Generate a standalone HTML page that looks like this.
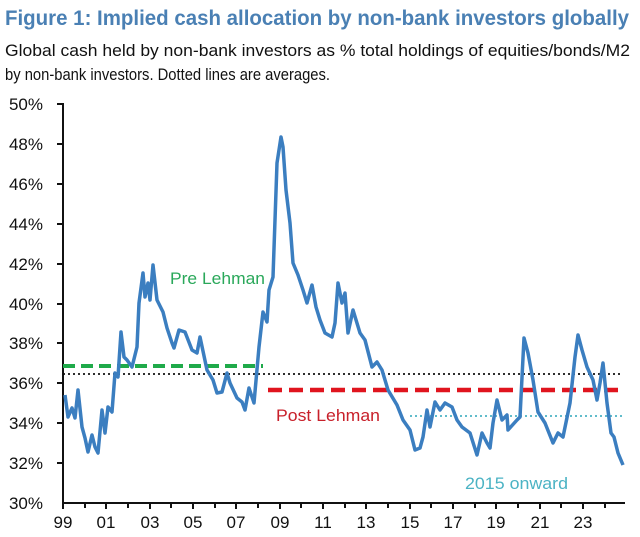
<!DOCTYPE html>
<html><head><meta charset="utf-8"><style>
html,body{margin:0;padding:0;background:#fff;}
svg{display:block;font-family:"Liberation Sans",sans-serif;}
</style></head><body>
<svg width="640" height="537" viewBox="0 0 640 537">
<text x="5" y="25" font-size="21" font-weight="bold" fill="#4a80b4" textLength="624" lengthAdjust="spacingAndGlyphs">Figure 1: Implied cash allocation by non-bank investors globally</text>
<text x="5" y="56" font-size="17" fill="#111" textLength="625" lengthAdjust="spacingAndGlyphs">Global cash held by non-bank investors as % total holdings of equities/bonds/M2</text>
<text x="5" y="80" font-size="17" fill="#111" textLength="325" lengthAdjust="spacingAndGlyphs">by non-bank investors. Dotted lines are averages.</text>
<g font-size="17" fill="#111" text-anchor="end">
<text x="43" y="110">50%</text><text x="43" y="150">48%</text><text x="43" y="190">46%</text><text x="43" y="230">44%</text><text x="43" y="270">42%</text><text x="43" y="310">40%</text><text x="43" y="349">38%</text><text x="43" y="389">36%</text><text x="43" y="429">34%</text><text x="43" y="469">32%</text><text x="43" y="509">30%</text>
</g>
<g stroke="#111" stroke-width="2">
<line x1="63" y1="103" x2="63" y2="504"/><line x1="62" y1="503" x2="625" y2="503"/>
<line x1="57" y1="104" x2="63" y2="104"/><line x1="57" y1="144" x2="63" y2="144"/><line x1="57" y1="184" x2="63" y2="184"/><line x1="57" y1="224" x2="63" y2="224"/><line x1="57" y1="264" x2="63" y2="264"/><line x1="57" y1="304" x2="63" y2="304"/><line x1="57" y1="343" x2="63" y2="343"/><line x1="57" y1="383" x2="63" y2="383"/><line x1="57" y1="423" x2="63" y2="423"/><line x1="57" y1="463" x2="63" y2="463"/>
</g>
<g stroke="#111" stroke-width="2">
<path d="M63 503v6M85 503v5M106 503v6M128 503v5M150 503v6M171 503v5M193 503v6M215 503v5M236 503v6M258 503v5M280 503v6M301 503v5M323 503v6M345 503v5M366 503v6M388 503v5M410 503v6M431 503v5M453 503v6M475 503v5M496 503v6M518 503v5M540 503v6M561 503v5M583 503v6M605 503v5"/>
</g>
<g font-size="17" fill="#111" text-anchor="middle">
<text x="63" y="528">99</text><text x="106" y="528">01</text><text x="150" y="528">03</text><text x="193" y="528">05</text><text x="236" y="528">07</text><text x="280" y="528">09</text><text x="323" y="528">11</text><text x="366" y="528">13</text><text x="410" y="528">15</text><text x="453" y="528">17</text><text x="496" y="528">19</text><text x="540" y="528">21</text><text x="583" y="528">23</text>
</g>
<line x1="63" y1="374" x2="622" y2="374" stroke="#111" stroke-width="1.8" stroke-dasharray="2,3"/>
<line x1="410" y1="416" x2="622" y2="416" stroke="#4bb3c4" stroke-width="1.8" stroke-dasharray="2,3"/>
<line x1="63" y1="366" x2="263" y2="366" stroke="#1faa4a" stroke-width="4" stroke-dasharray="12,6"/>
<line x1="268" y1="390" x2="622" y2="390" stroke="#e0141e" stroke-width="4.5" stroke-dasharray="14,7"/>
<polyline fill="none" stroke="#3b7ec0" stroke-width="3.5" stroke-linejoin="round" points="65,395 68,417 72,408 75,418 78,390 82,427 85,438 88,452 92,435 95,447 98,453 102,410 105,433 108,407 112,412 115,373 118,377 121,332 124,357 127,360 132,367 137,347 139,303 143,273 145,297 148,283 150,300 153,265 157,300 163,312 167,328 172,343 174,348 179,330 185,332 192,350 197,353 200,337 207,370 213,380 217,393 222,392 227,373 230,383 237,398 242,402 245,410 249,388 254,403 259,347 263,312 267,322 269,290 273,277 277,163 281,137 283,147 286,190 290,223 293,263 298,275 303,290 307,303 312,285 316,307 320,320 325,333 332,337 335,323 338,283 342,303 345,293 348,333 353,310 360,333 365,340 372,367 377,362 382,370 388,390 397,405 403,420 410,430 415,450 420,448 423,437 427,410 430,427 435,402 440,410 445,403 452,407 457,420 462,427 470,433 477,455 482,433 487,443 490,448 493,423 497,400 502,420 507,415 508,430 517,420 520,417 524,338 528,353 533,380 538,412 545,423 553,443 558,433 563,437 570,403 575,357 578,335 582,350 587,367 593,380 597,400 600,383 603,363 607,403 611,433 614,437 618,453 623,465"/>
<text x="170" y="284" font-size="17" fill="#2aa85a" textLength="95" lengthAdjust="spacingAndGlyphs">Pre Lehman</text>
<text x="276" y="421" font-size="17" fill="#c8202a" textLength="104" lengthAdjust="spacingAndGlyphs">Post Lehman</text>
<text x="465" y="489" font-size="17" fill="#4bb3c4" textLength="103" lengthAdjust="spacingAndGlyphs">2015 onward</text>
</svg>
</body></html>
